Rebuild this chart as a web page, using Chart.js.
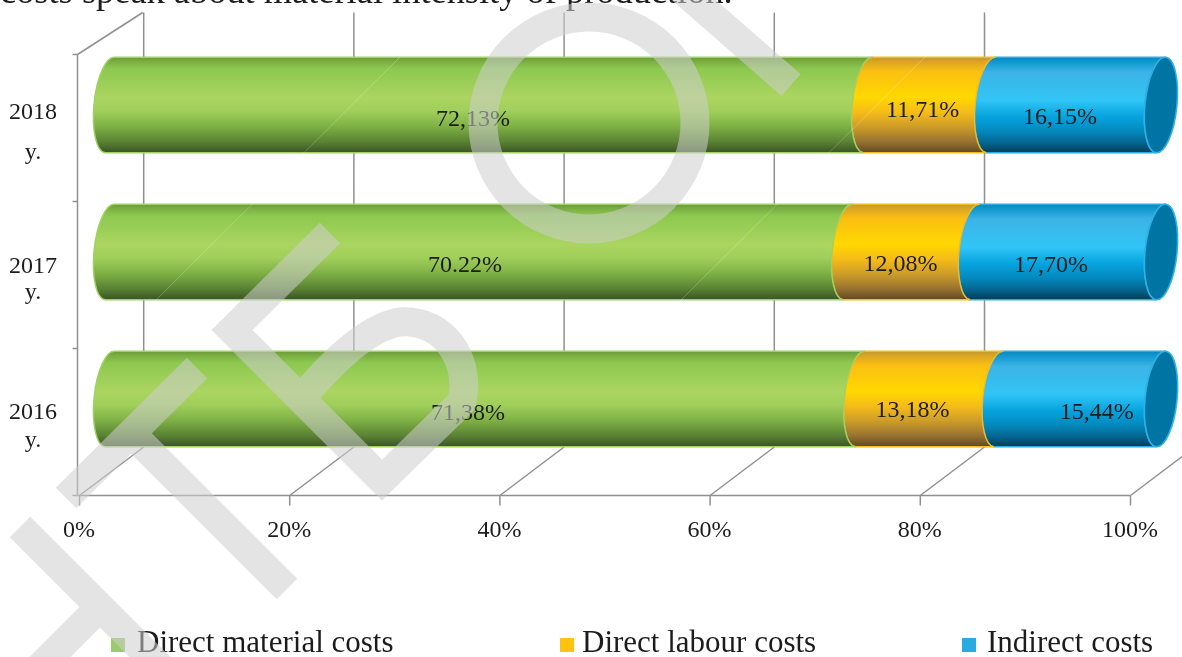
<!DOCTYPE html>
<html>
<head>
<meta charset="utf-8">
<script src="https://cdn.jsdelivr.net/npm/chart.js@4"></script>
<style>
html,body{margin:0;padding:0;background:#fff;overflow:hidden}
canvas{display:block}
</style>
</head>
<body>
<canvas id="c" width="1182" height="657"></canvas>
<script>
const categories = [['2018','y.'],['2017','y.'],['2016','y.']];
const seriesNames = ['Direct material costs','Direct labour costs','Indirect costs'];
const directMaterial = [72.13,70.22,71.38];
const directLabour = [11.71,12.08,13.18];
const indirect = [16.15,17.70,15.44];
const directMaterialLabels = ['72,13%','70.22%','71,38%'];
const directLabourLabels = ['11,71%','12,08%','13,18%'];
const indirectLabels = ['16,15%','17,70%','15,44%'];
const xTicks = [0,20,40,60,80,100];
const introText = 'costs speak about material intensity of production.';

const SERIF = '"Liberation Serif","Times New Roman",serif';
const INK = '#1c1c1c';
const legendColors = ['#9bca6b','#ffc20e','#29abe2'];
const edgeColors = ['#9ed263','#f3bb20','#2cabe2'];
const ramps = [
  [[0,'#6a9a39'],[.04,'#78ab40'],[.12,'#8cc84f'],[.42,'#abd560'],[.56,'#a0cf5b'],[.72,'#7fb145'],[.88,'#5a8333'],[1,'#3b5226']],
  [[0,'#c4962c'],[.05,'#d9a624'],[.15,'#fbbf12'],[.42,'#ffd800'],[.58,'#f5bb1a'],[.74,'#c99a29'],[.88,'#997331'],[1,'#5f4722']],
  [[0,'#0b86ba'],[.05,'#0f98cf'],[.16,'#3db3e6'],[.45,'#31c5f6'],[.62,'#06a4df'],[.78,'#0487bb'],[.9,'#04638c'],[1,'#033b57']]
];
const capColor = '#0075a4';
const RX = 16, TILT = 0.1;

// cylinder look for the library's own bar elements
Chart.BarElement.prototype.draw = function(ctx){
  const di = legendColors.indexOf(this.options.backgroundColor);
  const h = this.height, top = this.y - h/2, bottom = this.y + h/2;
  const g = ctx.createLinearGradient(0, top, 0, bottom);
  ramps[di].forEach(s => g.addColorStop(s[0], s[1]));
  ctx.save();
  ctx.beginPath();
  ctx.ellipse(this.base, this.y, RX, h/2, TILT, -Math.PI/2, Math.PI/2, true);
  ctx.ellipse(this.x, this.y, RX, h/2, TILT, Math.PI/2, -Math.PI/2, false);
  ctx.closePath();
  ctx.fillStyle = g;
  ctx.fill();
  ctx.lineWidth = 1.4;
  ctx.strokeStyle = edgeColors[di];
  ctx.stroke();
  if (di === ramps.length - 1) {
    ctx.beginPath();
    ctx.ellipse(this.x, this.y, RX, h/2, TILT, 0, Math.PI*2);
    ctx.fillStyle = capColor;
    ctx.fill();
    ctx.lineWidth = 1.6;
    ctx.strokeStyle = '#2fb0e6';
    ctx.stroke();
  }
  ctx.restore();
};

const wallsPlugin = {
  id:'walls',
  beforeDatasetsDraw(chart){
    const {ctx, scales:{x:xs, y:ys}} = chart;
    const FRONT = -30.5, BACK = 33.7, SHIFT = 23, DEPTH = 48.5, CLIP_TOP = 12.5;
    const floor = ys.bottom + SHIFT, wallTop = ys.top + SHIFT, backFloor = floor - DEPTH;
    ctx.save();
    ctx.strokeStyle = '#909090';
    ctx.lineWidth = 1.5;
    xTicks.forEach(t => {
      const p = xs.getPixelForValue(t);
      ctx.beginPath(); ctx.moveTo(p+BACK, CLIP_TOP); ctx.lineTo(p+BACK, backFloor); ctx.stroke();
      ctx.beginPath(); ctx.moveTo(p+FRONT, floor); ctx.lineTo(p+BACK, backFloor); ctx.stroke();
      ctx.beginPath(); ctx.moveTo(p+FRONT, floor); ctx.lineTo(p+FRONT, floor+10); ctx.stroke();
    });
    const x0 = xs.getPixelForValue(0)+FRONT, x1 = xs.getPixelForValue(100)+FRONT;
    ctx.beginPath(); ctx.moveTo(x0-2, floor); ctx.lineTo(x1, floor); ctx.stroke();
    ctx.beginPath(); ctx.moveTo(x0-2, wallTop); ctx.lineTo(x0-2, floor); ctx.stroke();
    ctx.beginPath(); ctx.moveTo(x0-2, wallTop); ctx.lineTo(xs.getPixelForValue(0)+BACK-1, CLIP_TOP); ctx.stroke();
    const step = (ys.bottom - ys.top)/categories.length;
    for (let i=0;i<=categories.length;i++){
      const py = wallTop + i*step;
      ctx.beginPath(); ctx.moveTo(x0-7, py); ctx.lineTo(x0-2, py); ctx.stroke();
    }
    ctx.restore();
  }
};

// hand-placed offsets of the value captions, relative to each segment's centre
const captionNudges = [
  [[-16,15],[-7,6],[-16,13]],
  [[-14,14],[-11,13],[-17,14]],
  [[-17,15],[-17,12],[17,14]]
];
const captionSets = [directMaterialLabels, directLabourLabels, indirectLabels];
const captionsPlugin = {
  id:'captions',
  afterDatasetsDraw(chart){
    const {ctx} = chart;
    ctx.save();
    ctx.font = '24px '+SERIF;
    ctx.fillStyle = INK;
    ctx.textAlign = 'center';
    ctx.textBaseline = 'middle';
    captionSets.forEach((set, di) => {
      chart.getDatasetMeta(di).data.forEach((el, i) => {
        const n = captionNudges[i][di];
        ctx.fillText(set[i], (el.x+el.base)/2 + n[0], el.y + n[1]);
      });
    });
    ctx.restore();
  }
};

const pageTextPlugin = {
  id:'pageText',
  afterDraw(chart){
    const {ctx} = chart;
    ctx.save();
    ctx.fillStyle = INK;
    ctx.textBaseline = 'alphabetic';
    ctx.font = '36.4px '+SERIF;
    ctx.textAlign = 'left';
    ctx.fillText(introText, 0, 3);
    // legend
    const spots = [[111,137],[560,582],[962,987]];
    ctx.font = '31px '+SERIF;
    seriesNames.forEach((name,i) => {
      ctx.fillStyle = legendColors[i];
      ctx.fillRect(spots[i][0], 638, 14, 14);
      ctx.fillStyle = INK;
      ctx.fillText(name, spots[i][1], 652);
    });
    // faint seams of the scanned page
    ctx.strokeStyle = 'rgba(255,255,255,0.22)';
    ctx.lineWidth = 1;
    ctx.beginPath();
    ctx.moveTo(400,57); ctx.lineTo(155,301);
    ctx.moveTo(925,57); ctx.lineTo(680,301);
    ctx.stroke();
    // watermark: one stroked path so overlaps stay even
    ctx.strokeStyle = 'rgba(206,206,206,0.55)';
    ctx.lineWidth = 29;
    ctx.lineCap = 'butt';
    ctx.lineJoin = 'miter';
    ctx.beginPath();
    ctx.moveTo(695,123);
    ctx.arc(589,123,106,0,Math.PI*2);
    ctx.closePath();
    ctx.moveTo(680,-12); ctx.lineTo(791,85);
    ctx.moveTo(330,233); ctx.lineTo(232,330); ctx.lineTo(382,480); ctx.lineTo(462,402);
    ctx.bezierCurveTo(470,365,450,326,410,322);
    ctx.bezierCurveTo(380,318,340,352,300,400);
    ctx.moveTo(197,368); ctx.lineTo(66,498);
    ctx.moveTo(131.5,433.5); ctx.lineTo(287,589);
    ctx.moveTo(20,527); ctx.lineTo(160,667);
    ctx.moveTo(100,607); ctx.lineTo(40,667);
    ctx.stroke();
    ctx.restore();
  }
};

const lineHeights = ['40px','26px','28px'];
const noOverflow = s => { s.paddingLeft = s.paddingRight = s.paddingTop = s.paddingBottom = 0; };

new Chart(document.getElementById('c'), {
  type:'bar',
  data:{
    labels:categories,
    datasets:[
      {label:seriesNames[0], data:directMaterial, backgroundColor:legendColors[0], clip:false},
      {label:seriesNames[1], data:directLabour, backgroundColor:legendColors[1], clip:false},
      {label:seriesNames[2], data:indirect, backgroundColor:legendColors[2], clip:false}
    ]
  },
  options:{
    indexAxis:'y',
    responsive:false,
    animation:false,
    devicePixelRatio:1,
    barPercentage:96/147,
    categoryPercentage:1,
    layout:{autoPadding:false,padding:{top:31.5,right:21,left:0,bottom:0}},
    plugins:{legend:{display:false},tooltip:{enabled:false}},
    scales:{
      x:{
        type:'linear',
        stacked:true,
        min:0,max:100,
        afterBuildTicks(s){ s.ticks = xTicks.map(v => ({value:v})); },
        grid:{display:false,drawTicks:false},
        border:{display:false},
        afterFit(s){ s.height = 184.5; noOverflow(s); },
        ticks:{
          padding:44,
          labelOffset:-31,
          maxRotation:0,
          autoSkip:false,
          color:INK,
          font:{family:SERIF,size:24},
          callback:v => v+'%'
        }
      },
      y:{
        type:'category',
        stacked:true,
        grid:{display:false,drawTicks:false},
        border:{display:false},
        afterFit(s){ s.width = 110; noOverflow(s); },
        ticks:{
          padding:53,
          crossAlign:'center',
          labelOffset:28,
          color:INK,
          font:ctx => ({family:SERIF,size:24,lineHeight:lineHeights[ctx.index] || '26px'})
        }
      }
    }
  },
  plugins:[wallsPlugin,captionsPlugin,pageTextPlugin]
});
</script>
</body>
</html>
